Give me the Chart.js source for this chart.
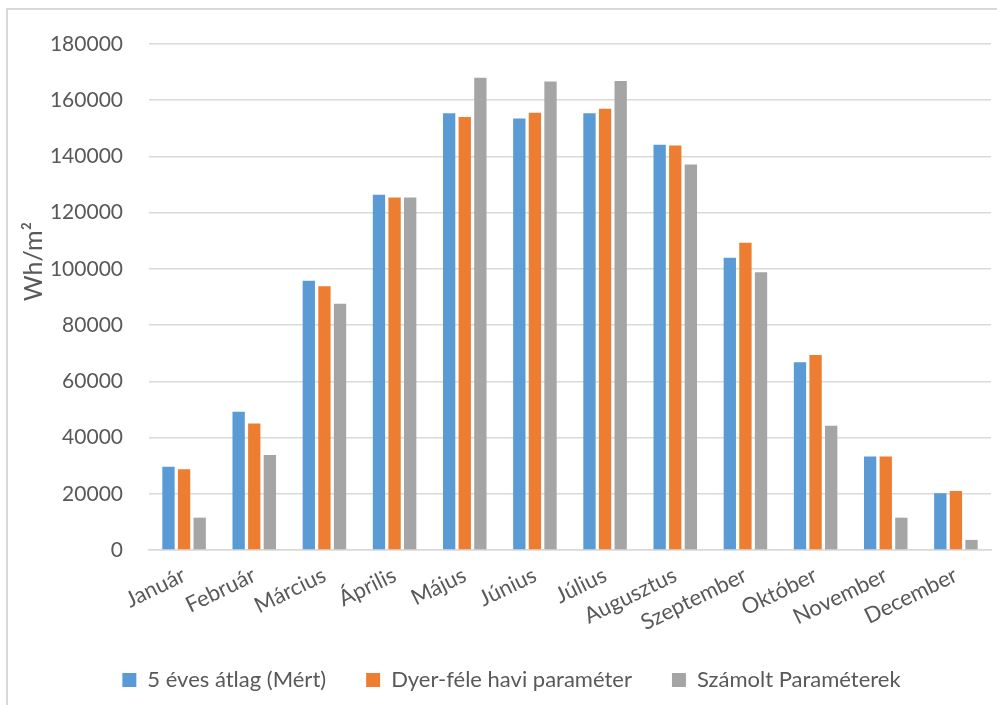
<!DOCTYPE html>
<html>
<head>
<meta charset="utf-8">
<script src="https://cdn.jsdelivr.net/npm/chart.js@4"></script>
<style>
  html, body { margin: 0; padding: 0; background: #fff; overflow: hidden; }
  #frame { position: absolute; left: 6px; top: 8px; width: 2000px; height: 2000px; border: 2px solid #d9d9d9; }
  #wrap { position: absolute; left: 0; top: 0; width: 997px; height: 705px; }
</style>
</head>
<body>
<div id="frame"></div>
<div id="wrap"><canvas id="chart" width="997" height="705"></canvas></div>
<script>
// Data
var months = ['Január', 'Február', 'Március', 'Április', 'Május', 'Június',
              'Július', 'Augusztus', 'Szeptember', 'Október', 'November', 'December'];
var measured = [29600, 49200, 95800, 126400, 155400, 153500, 155400, 144200, 104000, 66800, 33300, 20200];
var dyer = [28700, 45000, 93800, 125400, 154000, 155500, 157000, 143900, 109300, 69400, 33300, 21000];
var computed = [11500, 33800, 87600, 125400, 168000, 166700, 166800, 137100, 98800, 44200, 11500, 3600];
var seriesNames = ['5 éves átlag (Mért)', 'Dyer-féle havi paraméter', 'Számolt Paraméterek'];
var yTitle = 'Wh/m²';

var textColor = '#595959';
var gridColor = '#d9d9d9';
var fontFamily = 'Lato, "Open Sans", sans-serif';

// Function to draw the rotated y axis title (sits a bit above the middle, like the original)
var yTitlePlugin = {
    id: 'yTitle',
    afterDraw: function (chart) {
        var ctx = chart.ctx;
        var area = chart.chartArea;
        ctx.save();
        ctx.translate(34, area.top + (area.bottom - area.top) * 0.43);
        ctx.rotate(-Math.PI / 2);
        ctx.fillStyle = textColor;
        ctx.font = '25px ' + fontFamily;
        ctx.textAlign = 'center';
        ctx.textBaseline = 'middle';
        ctx.fillText(yTitle, 0, 0);
        ctx.restore();
    }
};

var ctx = document.getElementById('chart').getContext('2d');
new Chart(ctx, {
    type: 'bar',
    data: {
        labels: months,
        datasets: [{
            label: seriesNames[0],
            data: measured,
            backgroundColor: '#5b9bd5'
        }, {
            label: seriesNames[1],
            data: dyer,
            backgroundColor: '#ed7d31'
        }, {
            label: seriesNames[2],
            data: computed,
            backgroundColor: '#a5a5a5'
        }]
    },
    options: {
        responsive: false,
        animation: false,
        barPercentage: 0.79,
        categoryPercentage: 0.667,
        layout: {
            padding: { top: 44, right: 6, left: 32, bottom: 4 }
        },
        plugins: {
            legend: {
                position: 'bottom',
                labels: {
                    boxWidth: 14,
                    boxHeight: 14,
                    padding: 40,
                    color: textColor,
                    font: { family: fontFamily, size: 22 }
                }
            },
            tooltip: { enabled: false }
        },
        scales: {
            x: {
                grid: { display: false },
                border: { color: gridColor, width: 1.5 },
                afterFit: function (scale) { scale.height = 79; },
                ticks: {
                    color: textColor,
                    font: { family: fontFamily, size: 22 },
                    minRotation: 26,
                    maxRotation: 26,
                    padding: 4
                }
            },
            y: {
                min: 0,
                max: 180000,
                border: { display: false },
                grid: { color: gridColor, lineWidth: 1.5, drawTicks: false },
                afterFit: function (scale) { scale.width = 117; },
                ticks: {
                    stepSize: 20000,
                    color: textColor,
                    font: { family: fontFamily, size: 21 },
                    padding: 26,
                    callback: function (value) { return String(value); }
                }
            }
        }
    },
    plugins: [yTitlePlugin]
});
</script>
</body>
</html>
